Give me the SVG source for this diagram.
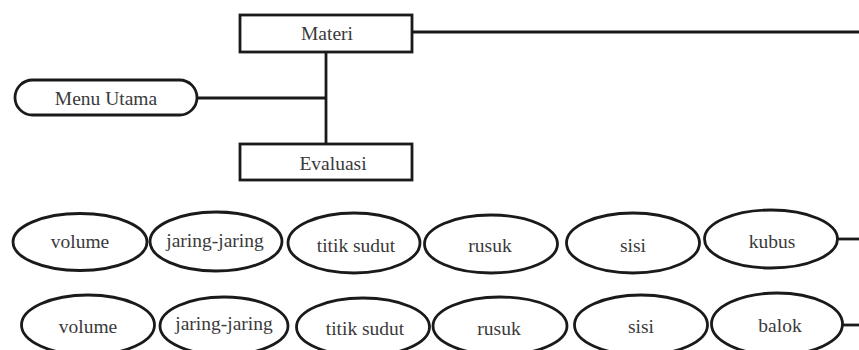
<svg xmlns="http://www.w3.org/2000/svg" width="859" height="350" viewBox="0 0 859 350">
<style>
.shape{fill:#fff;stroke:#1a1a1a;stroke-width:2.8}
.line{fill:none;stroke:#1a1a1a;stroke-width:2.8}
.t{font-family:'Liberation Serif','Times New Roman','DejaVu Serif',serif;font-size:19.5px;fill:#3a3a3a;text-anchor:middle}
</style>
<rect width="859" height="350" fill="#fff"/>
<g id="connectors">
<line class="line" x1="412" y1="32" x2="859" y2="32"/>
<line class="line" x1="326" y1="52" x2="326" y2="144"/>
<line class="line" x1="197" y1="98" x2="326" y2="98"/>
<line class="line" x1="837" y1="239" x2="859" y2="239"/>
<line class="line" x1="843" y1="325" x2="859" y2="325"/>
</g>
<g id="materi"><rect class="shape" x="240" y="15" width="172" height="37"/><text class="t" x="327" y="40" font-family="Liberation Serif, serif">Materi</text></g>
<g id="menu-utama"><rect class="shape" x="15" y="80" width="182" height="35" rx="17.5"/><text class="t" x="106" y="105" font-family="Liberation Serif, serif">Menu Utama</text></g>
<g id="evaluasi"><rect class="shape" x="240" y="144" width="172" height="36"/><text class="t" x="333" y="170" font-family="Liberation Serif, serif">Evaluasi</text></g>
<g id="r1-volume"><ellipse class="shape" cx="80" cy="242" rx="67" ry="28.5"/><text class="t" x="80" y="248" font-family="Liberation Serif, serif">volume</text></g>
<g id="r1-jaring"><ellipse class="shape" cx="216" cy="241.5" rx="66" ry="29.5"/><text class="t" x="215" y="247" font-family="Liberation Serif, serif">jaring-jaring</text></g>
<g id="r1-titik"><ellipse class="shape" cx="354" cy="243" rx="66" ry="30"/><text class="t" x="356" y="252" font-family="Liberation Serif, serif">titik sudut</text></g>
<g id="r1-rusuk"><ellipse class="shape" cx="491" cy="244" rx="66.5" ry="29"/><text class="t" x="490" y="252" font-family="Liberation Serif, serif">rusuk</text></g>
<g id="r1-sisi"><ellipse class="shape" cx="633" cy="243" rx="66.5" ry="30"/><text class="t" x="633" y="252" font-family="Liberation Serif, serif">sisi</text></g>
<g id="r1-kubus"><ellipse class="shape" cx="771" cy="239" rx="66.5" ry="29"/><text class="t" x="772" y="248" font-family="Liberation Serif, serif">kubus</text></g>
<g id="r2-volume"><ellipse class="shape" cx="88" cy="325" rx="66.5" ry="30"/><text class="t" x="88" y="333" font-family="Liberation Serif, serif">volume</text></g>
<g id="r2-jaring"><ellipse class="shape" cx="224" cy="326" rx="64" ry="29"/><text class="t" x="224" y="330" font-family="Liberation Serif, serif">jaring-jaring</text></g>
<g id="r2-titik"><ellipse class="shape" cx="363" cy="327" rx="66.5" ry="29"/><text class="t" x="365" y="335" font-family="Liberation Serif, serif">titik sudut</text></g>
<g id="r2-rusuk"><ellipse class="shape" cx="500" cy="326" rx="67" ry="29"/><text class="t" x="499" y="335" font-family="Liberation Serif, serif">rusuk</text></g>
<g id="r2-sisi"><ellipse class="shape" cx="641" cy="325" rx="66.5" ry="30"/><text class="t" x="641" y="333" font-family="Liberation Serif, serif">sisi</text></g>
<g id="r2-balok"><ellipse class="shape" cx="777" cy="324" rx="65.5" ry="31"/><text class="t" x="780" y="332" font-family="Liberation Serif, serif">balok</text></g>
</svg>
